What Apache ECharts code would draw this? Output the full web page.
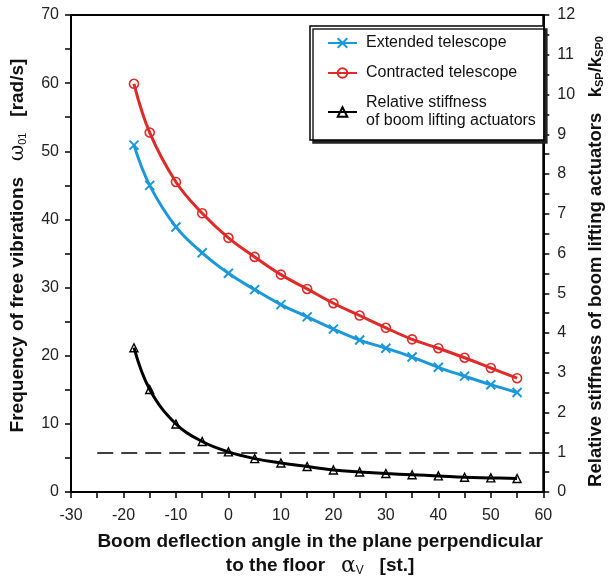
<!DOCTYPE html>
<html>
<head>
<meta charset="utf-8">
<script src="https://cdn.jsdelivr.net/npm/echarts@6/dist/echarts.min.js"></script>
<style>html,body{margin:0;padding:0;background:#fff;}#chart{width:613px;height:583px;}</style>
</head>
<body>
<div id="chart"></div>
<script>
var angles = [-18, -15, -10, -5, 0, 5, 10, 15, 20, 25, 30, 35, 40, 45, 50, 55];
var extendedTelescope = [50.9, 45.0, 38.9, 35.1, 32.1, 29.7, 27.5, 25.7, 23.9, 22.3, 21.1, 19.8, 18.3, 17.0, 15.75, 14.6];
var contractedTelescope = [59.9, 52.75, 45.5, 40.9, 37.3, 34.5, 31.9, 29.8, 27.7, 25.9, 24.1, 22.4, 21.1, 19.7, 18.2, 16.7];
var relativeStiffness = [3.63, 2.58, 1.71, 1.27, 1.01, 0.84, 0.73, 0.64, 0.555, 0.505, 0.465, 0.435, 0.405, 0.37, 0.355, 0.34];
var referenceLevel = 1;
var referenceStart = -25;
var seriesNames = ['Extended telescope', 'Contracted telescope', 'Relative stiffness\nof boom lifting actuators'];

function pairs(xs, ys) { return xs.map(function (x, i) { return [x, ys[i]]; }); }

var FONT = 'Liberation Sans, Arial, sans-serif';
var BLUE = '#1b98d9', RED = '#e02a28', BLACK = '#000';

var chart = echarts.init(document.getElementById('chart'));
var axisCommon = {
  axisLine: { show: true, onZero: false, lineStyle: { color: '#000', width: 2 } },
  axisTick: { show: true, inside: false, length: 6, lineStyle: { color: '#000', width: 1.5 } },
  minorTick: { show: true, splitNumber: 2, length: 6, lineStyle: { color: '#000', width: 1.5 } },
  splitLine: { show: false },
  minorSplitLine: { show: false },
  axisLabel: { color: '#222', fontSize: 16, fontFamily: FONT }
};
function ax(o) { return Object.assign({}, JSON.parse(JSON.stringify(axisCommon)), o); }

chart.setOption({
  animation: false,
  backgroundColor: '#fff',
  grid: { left: 71, right: 53, top: 15, bottom: 85, show: true, borderColor: '#000', borderWidth: 2, backgroundColor: 'transparent' },
  legend: {
    orient: 'vertical',
    left: 310, top: 26,
    padding: [8, 8, 10, 17],
    itemGap: 12,
    itemWidth: 29, itemHeight: 12,
    backgroundColor: '#fff',
    borderColor: '#000', borderWidth: 1.5, borderRadius: 0,
    shadowColor: '#222', shadowOffsetX: 3, shadowOffsetY: 3, shadowBlur: 0,
    data: seriesNames,
    textStyle: { fontSize: 16, fontFamily: FONT, color: '#111', lineHeight: 18, padding: [0, 0, 0, 4] }
  },
  xAxis: ax({
    type: 'value', min: -30, max: 60, interval: 10,
    axisLabel: { color: '#222', fontSize: 16, fontFamily: FONT, margin: 16 },
    name: 'Boom deflection angle in the plane perpendicular\n{t|to the floor   }{g|α}{s|V}{t|   [st.]}',
    nameLocation: 'middle', nameGap: 38,
    nameTextStyle: {
      fontSize: 19, fontWeight: 'bold', fontFamily: FONT, color: '#111', lineHeight: 24,
      padding: [0, 0, 0, 26],
      rich: {
        t: { fontSize: 19, fontWeight: 'bold', fontFamily: FONT, color: '#111', lineHeight: 24 },
        g: { fontSize: 22, fontWeight: 'normal', fontFamily: 'DejaVu Serif, serif', color: '#111', lineHeight: 24 },
        s: { fontSize: 12, fontWeight: 'normal', fontFamily: FONT, color: '#111', lineHeight: 24, padding: [10, 0, 0, 0] }
      }
    }
  }),
  yAxis: [
    ax({
      type: 'value', min: 0, max: 70, interval: 10, position: 'left',
      axisLabel: { color: '#222', fontSize: 16, fontFamily: FONT, margin: 12 },
      name: '{t|Frequency of free vibrations   }{g|ω}{s|01}{t|   [rad/s]}',
      nameLocation: 'middle', nameGap: 43, nameRotate: 90,
      nameTextStyle: {
        padding: [0, 0, 0, 16],
        rich: {
          t: { fontSize: 19, fontWeight: 'bold', fontFamily: FONT, color: '#111' },
          g: { fontSize: 20, fontWeight: 'normal', fontFamily: 'DejaVu Serif, serif', color: '#111' },
          s: { fontSize: 11, fontWeight: 'normal', fontFamily: FONT, color: '#111', padding: [9, 0, 0, 0] }
        }
      }
    }),
    ax({
      type: 'value', min: 0, max: 12, interval: 1, position: 'right',
      axisLabel: { color: '#222', fontSize: 16, fontFamily: FONT, margin: 14 },
      name: '{t|Relative stiffness of boom lifting actuators   k}{s|SP}{t|/k}{s|SP0}',
      nameLocation: 'middle', nameGap: 31, nameRotate: 90,
      nameTextStyle: {
        padding: [0, 16, 0, 0],
        rich: {
          t: { fontSize: 18.5, fontWeight: 'bold', fontFamily: FONT, color: '#111' },
          s: { fontSize: 11, fontWeight: 'bold', fontFamily: FONT, color: '#111', padding: [8, 0, 0, 0] }
        }
      }
    })
  ],
  series: [
    {
      name: seriesNames[0], type: 'line', yAxisIndex: 0, smooth: 0.4,
      data: pairs(angles, extendedTelescope),
      symbol: 'path://M0,0L10,10M0,10L10,0', symbolSize: 9,
      lineStyle: { color: BLUE, width: 3 },
      itemStyle: { color: BLUE, borderColor: BLUE, borderWidth: 2 }
    },
    {
      name: seriesNames[1], type: 'line', yAxisIndex: 0, smooth: 0.4,
      data: pairs(angles, contractedTelescope),
      symbol: 'circle', symbolSize: 9,
      lineStyle: { color: RED, width: 3 },
      itemStyle: { color: 'rgba(255,255,255,0)', borderColor: RED, borderWidth: 1.6 }
    },
    {
      name: seriesNames[2], type: 'line', yAxisIndex: 1, smooth: 0.4,
      data: pairs(angles, relativeStiffness),
      symbol: 'triangle', symbolSize: 8,
      lineStyle: { color: BLACK, width: 3 },
      itemStyle: { color: 'rgba(255,255,255,0)', borderColor: BLACK, borderWidth: 1.4 },
      markLine: {
        silent: true, symbol: ['none', 'none'], label: { show: false },
        lineStyle: { color: '#000', width: 1.5, type: [16, 8] },
        data: [[{ coord: [referenceStart, referenceLevel] }, { coord: [60, referenceLevel] }]]
      }
    }
  ]
});
</script>
</body>
</html>
